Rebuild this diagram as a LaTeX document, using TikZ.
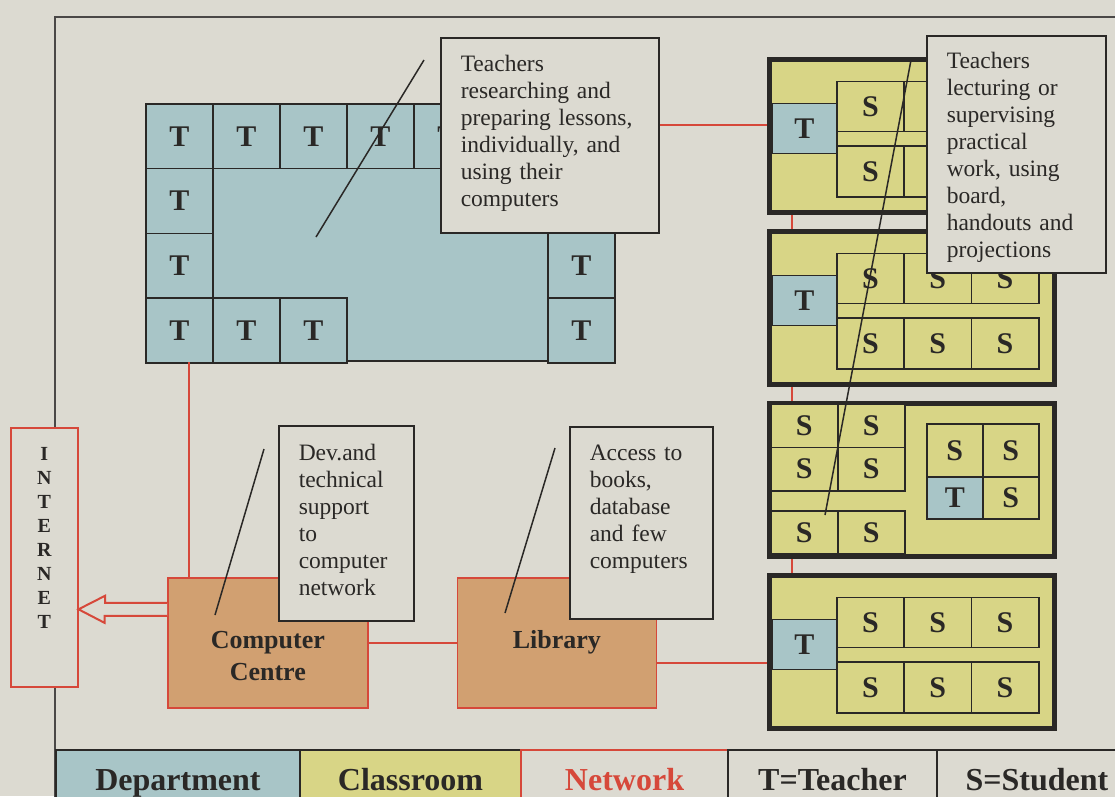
\documentclass[tikz,border=0pt]{standalone}
\usepackage{fontspec}
\setmainfont{Liberation Serif}
\usepackage{tikz}
\usetikzlibrary{positioning, calc}

\definecolor{paper}{RGB}{220,218,209}
\definecolor{deptblue}{RGB}{168,197,199}
\definecolor{roomyellow}{RGB}{216,213,134}
\definecolor{centretan}{RGB}{209,160,113}
\definecolor{netred}{RGB}{214,72,58}
\definecolor{ink}{RGB}{42,40,38}

\begin{document}
\begin{tikzpicture}[
  x=1pt, y=-1pt,
  every node/.style={inner sep=0pt, text=ink},
  frame/.style={draw=ink!85, line width=2pt},
  cell/.style={draw=ink, line width=1.6pt, anchor=north west,
    font=\fontsize{30}{30}\selectfont\bfseries},
  tcell/.style={cell, fill=deptblue},
  scell/.style={cell, fill=roomyellow},
  dcell/.style={tcell, minimum width=67pt, minimum height=64.75pt},
  dept/.style={draw=ink, line width=2pt, fill=deptblue, anchor=north west,
    minimum width=467pt, minimum height=257pt},
  room/.style={draw=ink, line width=5pt, fill=roomyellow, anchor=north west,
    minimum width=285pt, minimum height=153pt},
  place/.style={draw=netred, line width=1.6pt, fill=centretan, anchor=north west,
    align=center, text height=71pt, text depth=59pt,
    font=\fontsize{26}{32}\selectfont\bfseries},
  inetbox/.style={draw=netred, line width=1.5pt, fill=paper, anchor=north west,
    align=center, text width=67pt, text height=33pt, text depth=226pt,
    font=\fontsize{20}{24}\selectfont\bfseries},
  callout/.style={draw=ink, line width=1.5pt, fill=paper, anchor=north west,
    align=left, inner xsep=20pt, font=\fontsize{23.5}{27}\selectfont},
  net/.style={draw=netred, line width=2pt},
  pointer/.style={draw=ink, line width=1.5pt},
  keycell/.style={draw=ink, line width=2pt, anchor=north west, minimum width=#1,
    text height=40pt, text depth=20pt, font=\fontsize{32}{32}\selectfont\bfseries},
]
  \useasboundingbox (0,0) rectangle (1115,796);
  \clip (0,0) rectangle (1115,796);
  \fill[paper] (0,0) rectangle (1115,796);

  % Frame
  \draw[frame] (55,800) -- (55,17) -- (1120,17);

  % Legend
  \node[keycell=244pt, fill=deptblue] (kdept) at (55,749) {Department};
  \node[keycell=221pt, fill=roomyellow] (kclass) at (299,749) {Classroom};
  \node[keycell=207pt, draw=netred, fill=paper, text=netred] (knet) at (520,749) {Network};
  \node[keycell=209pt, fill=paper] (kteach) at (727,749) {T=Teacher};
  \node[keycell=200pt, fill=paper] (kstud) at (936,749) {S=Student};

  % Department (cells under the callout stay empty)
  \node[dept] (dept) at (145,103) {};
  \foreach \i/\t in {0/T, 1/T, 2/T, 3/T, 4/T, 5/, 6/}
    \node[dcell] (dt\i) at (145+67*\i,103) {\t};
  \foreach \k/\t in {1/, 2/T, 3/T} {
    \node[dcell] (dl\k) at (145,103+64.75*\k) {T};
    \node[dcell] (dr\k) at (547,103+64.75*\k) {\t};
  }
  \foreach \i in {1,2}
    \node[dcell] (db\i) at (145+67*\i,297.25) {T};

  % Classrooms
  \node[room] (r1) at (767,57) {};
  \node[room, below=14pt of r1] (r2) {};
  \node[room, below=14pt of r2] (r3) {};
  \node[room, below=14pt of r3] (r4) {};

  \foreach \r/\s in {r1/, r2/S, r4/S} {
    \node[tcell, minimum width=65pt, minimum height=50pt] (\r-t)
      at ([xshift=4pt, yshift=-45.5pt]\r.north west) {T};
    \node[scell, minimum width=67.3pt, minimum height=50pt] (\r-a0)
      at ([xshift=69pt, yshift=-23.5pt]\r.north west) {S};
    \node[scell, minimum width=67.3pt, minimum height=51pt] (\r-b0)
      at ([xshift=69pt, yshift=-88pt]\r.north west) {S};
    \foreach \j in {1,2} {
      \node[scell, minimum width=67.3pt, minimum height=50pt] (\r-a\j)
        at ([xshift=69+67.3*\j, yshift=-23.5pt]\r.north west) {\s};
      \node[scell, minimum width=67.3pt, minimum height=51pt] (\r-b\j)
        at ([xshift=69+67.3*\j, yshift=-88pt]\r.north west) {\s};
    }
  }

  \foreach \j in {0,1} {
    \foreach \k in {0,1}
      \node[scell, minimum width=67pt, minimum height=43.5pt] (r3-a\j\k)
        at ([xshift=3+67*\j, yshift=-2-43.5*\k]r3.north west) {S};
    \node[scell, minimum width=67pt, minimum height=43pt] (r3-b\j)
      at ([xshift=3+67*\j, yshift=-109pt]r3.north west) {S};
  }
  \node[scell, minimum width=56pt, minimum height=53pt] (r3-c0)
    at ([xshift=159pt, yshift=-22pt]r3.north west) {S};
  \node[scell, minimum width=56pt, minimum height=53pt] (r3-c1)
    at ([xshift=215pt, yshift=-22pt]r3.north west) {S};
  \node[tcell, minimum width=56pt, minimum height=42pt] (r3-t)
    at ([xshift=159pt, yshift=-75pt]r3.north west) {T};
  \node[scell, minimum width=56pt, minimum height=42pt] (r3-c2)
    at ([xshift=215pt, yshift=-75pt]r3.north west) {S};

  % Centre, library and internet
  \node[place, text width=200pt] (cc) at (167,577) {Computer\\Centre};
  \node[place, text width=199pt, right=88pt of cc] (lib) {Library};
  \node[inetbox] (inet) at (10,427) {I\\N\\T\\E\\R\\N\\E\\T};

  % Network
  \coordinate (n0) at ([xshift=44pt]dept.south west);
  \coordinate (n1) at ([yshift=3.5pt]r1-t.west);
  \coordinate (n4) at ([yshift=-18.5pt]r4-t.west);
  \draw[net] (n0) -- (n0 |- cc.north);
  \draw[net] (n1 -| dept.east) -- (n1 -| r1.west);
  \draw[net] (cc.east) -- (lib.west);
  \draw[net] (n4 -| lib.east) -- (n4 -| r4.west);
  \foreach \a/\b in {r1/r2, r2/r3, r3/r4}
    \draw[net] ([xshift=25pt]\a.south west) -- ([xshift=25pt]\b.north west);
  \draw[net, fill=paper] ([yshift=40pt]cc.west) -- ++(-62,0) -- ++(0,-7)
    -- ([yshift=33.5pt]cc.west -| inet.east) -- ++(26,13.5) -- ++(0,-7)
    -- ([yshift=27pt]cc.west);

  % Callouts
  \node[callout, text width=178pt, text height=34pt, text depth=161pt] (teach)
    at (440,37) {Teachers\\researching and\\preparing lessons,\\individually, and\\using their\\computers};
  \node[callout, text width=139pt, text height=33pt, text depth=204pt] (lect)
    at (926,35) {Teachers\\lecturing or\\supervising\\practical\\work, using\\board,\\handouts and\\projections};
  \node[callout, text width=95pt, text height=35pt, text depth=160pt] (devt)
    at (278,425) {Dev.and\\technical\\support\\to\\computer\\network};
  \node[callout, text width=103pt, text height=34pt, text depth=158pt] (acc)
    at (569,426) {Access to\\books,\\database\\and few\\computers};

  % Pointers
  \coordinate (teach1) at (316,237);  \coordinate (teach2) at (424,60);
  \coordinate (lect1)  at (825,515);  \coordinate (lect2)  at (911,60);
  \coordinate (devt1)  at (215,615);  \coordinate (devt2)  at (264,449);
  \coordinate (acc1)   at (505,613);  \coordinate (acc2)   at (555,448);
  \foreach \a/\b in {teach1/teach2, lect1/lect2, devt1/devt2, acc1/acc2}
    \draw[pointer] (\a) -- (\b);
\end{tikzpicture}
\end{document}
